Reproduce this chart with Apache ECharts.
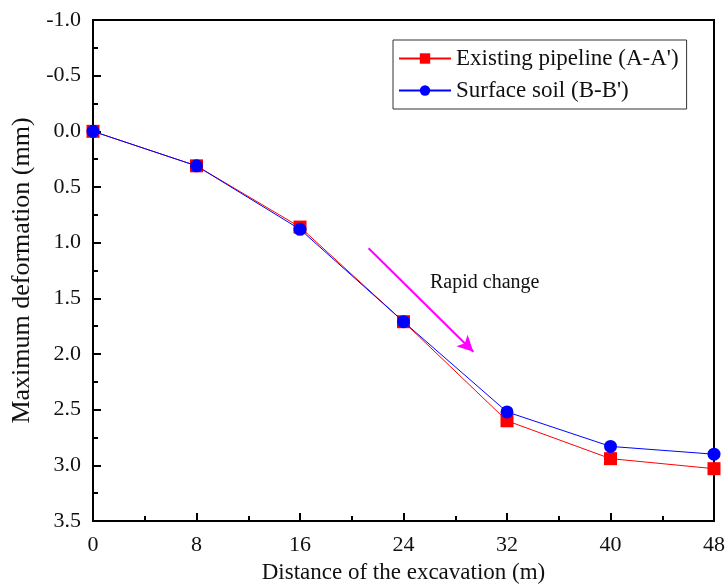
<!DOCTYPE html>
<html><head><meta charset="utf-8">
<script src="https://cdn.jsdelivr.net/npm/echarts@6/dist/echarts.min.js"></script>
<style>html,body{margin:0;padding:0;background:#fff}#c{width:727px;height:585px}</style>
</head><body><div id="c"></div>
<script>
const distances = [0, 8, 16, 24, 32, 40, 48];
const pipeline = [0.0, 0.31, 0.86, 1.71, 2.60, 2.94, 3.03];
const soil = [0.0, 0.31, 0.88, 1.71, 2.52, 2.83, 2.90];
const arrowFrom = [21.3, 1.05];
const arrowTo = [29.4, 1.98];
const FONT = '"Liberation Serif","Times New Roman",serif';
const chart = echarts.init(document.getElementById('c'));
chart.setOption({
  animation: false,
  grid: {left: 93, right: 13, top: 20, bottom: 64, outerBoundsMode: 'none', containLabel: false, show: true, borderColor: '#000', borderWidth: 2, backgroundColor: 'transparent'},
  legend: {
    top: 40, left: 393, width: 295, orient: 'vertical',
    padding: [7, 8, 7, 5], itemGap: 9,
    borderColor: '#333', borderWidth: 1,
    itemWidth: 52, itemHeight: 13,
    textStyle: {fontFamily: FONT, fontSize: 23, color: '#111'},
    data: ['Existing pipeline (A-A\')', 'Surface soil (B-B\')']
  },
  xAxis: {
    type: 'value', min: 0, max: 48, interval: 8,
    name: 'Distance of the excavation (m)', nameLocation: 'middle', nameGap: 40,
    nameTextStyle: {fontFamily: FONT, fontSize: 23, color: '#111'},
    axisLine: {onZero: false, lineStyle: {color: '#000', width: 2}},
    axisTick: {inside: true, length: 8, lineStyle: {color: '#000', width: 2}},
    minorTick: {show: true, splitNumber: 2, length: 5, lineStyle: {color: '#000', width: 2}},
    axisLabel: {fontFamily: FONT, fontSize: 22, color: '#111', margin: 13},
    splitLine: {show: false}
  },
  yAxis: {
    type: 'value', min: -1, max: 3.5, interval: 0.5, inverse: true,
    name: 'Maximum deformation (mm)', nameLocation: 'middle', nameGap: 52,
    nameTextStyle: {fontFamily: FONT, fontSize: 26, color: '#111'},
    axisLine: {onZero: false, lineStyle: {color: '#000', width: 2}},
    axisTick: {inside: true, length: 8, lineStyle: {color: '#000', width: 2}},
    minorTick: {show: true, splitNumber: 2, length: 5, lineStyle: {color: '#000', width: 2}},
    axisLabel: {fontFamily: FONT, fontSize: 22, color: '#111', margin: 12, formatter: v => v.toFixed(1)},
    splitLine: {show: false}
  },
  series: [
    {
      name: 'Existing pipeline (A-A\')', type: 'line',
      data: distances.map((d, i) => [d, pipeline[i]]),
      symbol: 'rect', symbolSize: 13,
      lineStyle: {color: '#ff0000', width: 1}, itemStyle: {color: '#ff0000'},
      z: 2,
      markLine: {
        silent: true, symbol: ['none', 'arrow'], symbolSize: [12, 16],
        lineStyle: {color: '#ff00ff', width: 2, type: 'solid'},
        label: {show: false},
        data: [[{coord: arrowFrom}, {coord: arrowTo}]]
      }
    },
    {
      name: 'Surface soil (B-B\')', type: 'line',
      data: distances.map((d, i) => [d, soil[i]]),
      symbol: 'circle', symbolSize: 13,
      lineStyle: {color: '#0000ff', width: 1}, itemStyle: {color: '#0000ff'},
      z: 3
    }
  ],
  graphic: [
    {type: 'text', left: 430, top: 273, style: {text: 'Rapid change', fontFamily: FONT, fontSize: 20, fill: '#111'}}
  ]
});
</script></body></html>
